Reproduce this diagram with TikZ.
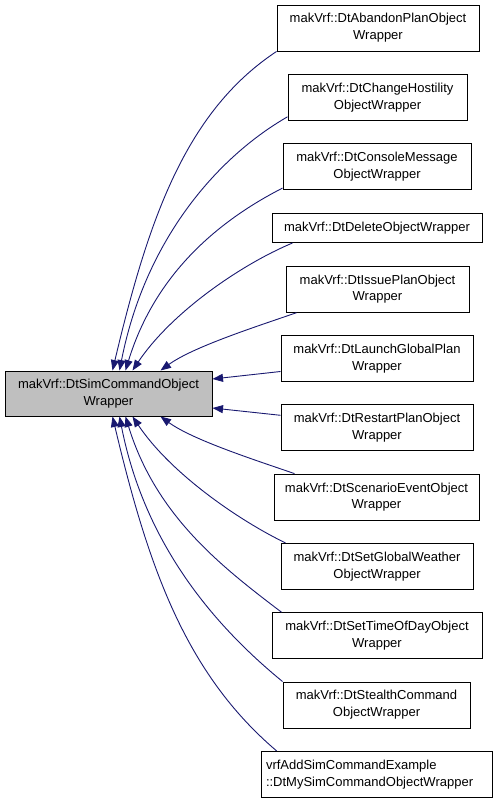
\documentclass[tikz,border=0pt]{standalone}
\usepackage{fontspec}
\setmainfont{Liberation Sans}
\usetikzlibrary{arrows.meta,calc}
\definecolor{edgeblue}{HTML}{191970}
\definecolor{mainfill}{HTML}{BFBFBF}
\begin{document}
\begin{tikzpicture}[x=1pt,y=-1pt,
  box/.style={draw=black, line width=1pt, fill=white, inner sep=0pt,
    minimum height=46pt, align=center, font=\fontsize{13}{16.8}\selectfont},
  edge/.style={draw=edgeblue, line width=0.9pt, -{Triangle[length=10.5pt,width=8pt]}}]
\useasboundingbox (0,0) rectangle (499,803);
\node[box, fill=mainfill, minimum width=207pt, minimum height=45pt] (main) at (108.5,393.5) {makVrf::DtSimCommandObject\\Wrapper};
\node[box, minimum width=202pt] (b1) at (378,28) {makVrf::DtAbandonPlanObject\\Wrapper};
\node[box, minimum width=179pt] (b2) at (377.5,97.3) {makVrf::DtChangeHostility\\ObjectWrapper};
\node[box, minimum width=188pt] (b3) at (377,166.6) {makVrf::DtConsoleMessage\\ObjectWrapper};
\node[box, minimum width=210pt, minimum height=29pt] (b4) at (377,228) {makVrf::DtDeleteObjectWrapper};
\node[box, minimum width=183pt] (b5) at (377.5,289.2) {makVrf::DtIssuePlanObject\\Wrapper};
\node[box, minimum width=192pt] (b6) at (377,358.5) {makVrf::DtLaunchGlobalPlan\\Wrapper};
\node[box, minimum width=192pt] (b7) at (377,427.8) {makVrf::DtRestartPlanObject\\Wrapper};
\node[box, minimum width=205pt] (b8) at (376.5,497.1) {makVrf::DtScenarioEventObject\\Wrapper};
\node[box, minimum width=192pt] (b9) at (377,566.4) {makVrf::DtSetGlobalWeather\\ObjectWrapper};
\node[box, minimum width=210pt] (b10) at (377,635.7) {makVrf::DtSetTimeOfDayObject\\Wrapper};
\node[box, minimum width=187pt] (b11) at (376.5,705) {makVrf::DtStealthCommand\\ObjectWrapper};
\node[box, minimum width=231pt, text width=221pt, align=left] (b12) at (376.5,774.3) {vrfAddSimCommandExample\\::DtMySimCommandObjectWrapper};
% top edges
\draw[edge] (b1.south west) .. controls (185,112) and (148,221) .. ($(main.north west)+(108,0)$);
\draw[edge] ($(b2.south west)+(0,-4)$) .. controls (216,158) and (145,241) .. ($(main.north west)+(115,0)$);
\draw[edge] ($(b3.south west)+(0,-2)$) .. controls (222,219) and (156,271) .. ($(main.north west)+(121,0)$);
\draw[edge] ($(b4.south west)+(21,0)$) .. controls (240,265) and (171,313) .. ($(main.north west)+(128,0)$);
\draw[edge] ($(b5.south west)+(11,0)$) .. controls (255,327) and (193,347) .. ($(main.north west)+(156,0)$);
\draw[edge] ($(b6.west)+(0,13)$) -- ($(main.east)+(0,-14.5)$);
\draw[edge] ($(b7.west)+(0,-12.5)$) -- ($(main.east)+(0,14.5)$);
% bottom edges
\draw[edge] ($(b8.north west)+(21,0)$) .. controls (255,460) and (193,440) .. ($(main.south west)+(156,0)$);
\draw[edge] ($(b9.north west)+(5,0)$) .. controls (240,521) and (171,474) .. ($(main.south west)+(128,0)$);
\draw[edge] ($(b10.north west)+(10,0)$) .. controls (222,567) and (156,516) .. ($(main.south west)+(121,0)$);
\draw[edge] (b11.north west) .. controls (216,627) and (145,546) .. ($(main.south west)+(115,0)$);
\draw[edge] ($(b12.north west)+(16,0)$) .. controls (185,673) and (148,566) .. ($(main.south west)+(108,0)$);
\end{tikzpicture}
\end{document}
